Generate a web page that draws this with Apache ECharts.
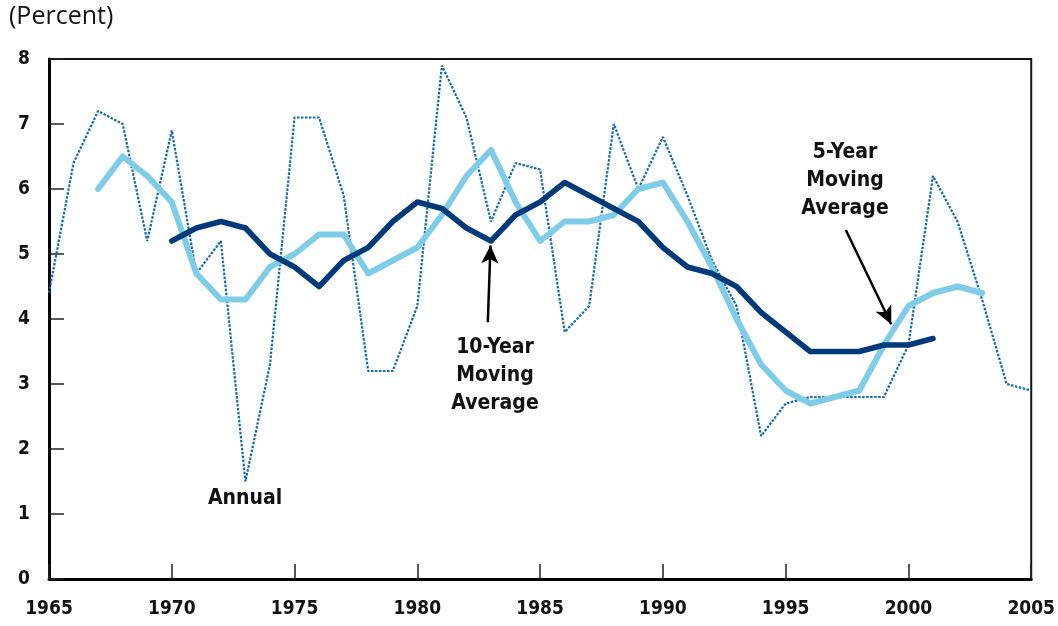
<!DOCTYPE html>
<html>
<head>
<meta charset="utf-8">
<script src="https://cdn.jsdelivr.net/npm/echarts@6/dist/echarts.min.js"></script>
<style>
  html, body { margin: 0; padding: 0; background: #fff; }
  #chart { width: 1058px; height: 626px; }
</style>
</head>
<body>
<div id="chart"></div>
<script>
// data
var annualStart = 1965;
var annual = [4.4, 6.4, 7.2, 7.0, 5.2, 6.9, 4.7, 5.2, 1.5, 3.3,
              7.1, 7.1, 5.9, 3.2, 3.2, 4.2, 7.9, 7.1, 5.5, 6.4,
              6.3, 3.8, 4.2, 7.0, 6.0, 6.8, 5.9, 4.9, 4.2, 2.2,
              2.7, 2.8, 2.8, 2.8, 2.8, 3.6, 6.2, 5.5, 4.3, 3.0, 2.9];
var ma5Start = 1967;
var ma5 = [6.0, 6.5, 6.2, 5.8, 4.7, 4.3, 4.3, 4.8, 5.0, 5.3,
           5.3, 4.7, 4.9, 5.1, 5.6, 6.2, 6.6, 5.8, 5.2, 5.5,
           5.5, 5.6, 6.0, 6.1, 5.5, 4.8, 4.0, 3.3, 2.9, 2.7,
           2.8, 2.9, 3.6, 4.2, 4.4, 4.5, 4.4];
var ma10Start = 1970;
var ma10 = [5.2, 5.4, 5.5, 5.4, 5.0, 4.8, 4.5, 4.9, 5.1, 5.5,
            5.8, 5.7, 5.4, 5.2, 5.6, 5.8, 6.1, 5.9, 5.7, 5.5,
            5.1, 4.8, 4.7, 4.5, 4.1, 3.8, 3.5, 3.5, 3.5, 3.6,
            3.6, 3.7];
var yearTicks = [1965, 1970, 1975, 1980, 1985, 1990, 1995, 2000, 2005];

function pairs(start, vals) {
    var out = [];
    for (var i = 0; i < vals.length; i++) {
        out.push([start + i, vals[i]]);
    }
    return out;
}

var font = '"Liberation Sans Narrow", "DejaVu Sans Condensed", "Roboto", sans-serif';

var chart = echarts.init(document.getElementById('chart'));
chart.setOption({
    animation: false,
    backgroundColor: '#fff',
    grid: {
        left: 49, right: 25, top: 59, bottom: 47,
        show: true, borderColor: '#111', borderWidth: 2,
        containLabel: false
    },
    xAxis: {
        type: 'value', min: 1965, max: 2005, interval: 5,
        axisLine: { show: true, lineStyle: { color: '#000', width: 3 } },
        axisTick: { show: true, inside: true, length: 15, lineStyle: { color: '#222', width: 1.5 } },
        axisLabel: {
            margin: 21, color: '#111', fontWeight: 'bold', fontSize: 19, fontFamily: font,
            formatter: function (v) { return yearTicks.indexOf(v) >= 0 ? String(v) : ''; }
        },
        splitLine: { show: false }
    },
    yAxis: {
        type: 'value', min: 0, max: 8, interval: 1,
        axisLine: { show: true, lineStyle: { color: '#000', width: 3 } },
        axisTick: { show: true, inside: true, length: 15, lineStyle: { color: '#222', width: 1.5 } },
        axisLabel: { margin: 19, color: '#111', fontWeight: 'bold', fontSize: 19, fontFamily: font },
        splitLine: { show: false }
    },
    graphic: [
        { type: 'text', left: 9, top: 4, style: { text: '(Percent)', font: '25px "Open Sans", sans-serif', fill: '#111' } },
        { type: 'text', x: 245, y: 499, style: { text: 'Annual', font: 'bold 21px ' + font, fill: '#111', align: 'center', verticalAlign: 'middle' } },
        { type: 'text', x: 495, y: 376, style: { text: '10-Year\nMoving\nAverage', font: 'bold 21px ' + font, lineHeight: 28, fill: '#111', align: 'center', verticalAlign: 'middle' } },
        { type: 'text', x: 845, y: 181, style: { text: '5-Year\nMoving\nAverage', font: 'bold 21px ' + font, lineHeight: 28, fill: '#111', align: 'center', verticalAlign: 'middle' } }
    ],
    series: [
        {
            name: 'Annual', type: 'line', data: pairs(annualStart, annual),
            showSymbol: false, symbol: 'none',
            lineStyle: { color: '#0f69ad', width: 2.2, type: [2.5, 1.5] },
            z: 2
        },
        {
            name: '5-Year Moving Average', type: 'line', data: pairs(ma5Start, ma5),
            showSymbol: false, symbol: 'none',
            lineStyle: { color: '#7fcce9', width: 6, cap: 'round', join: 'round' },
            z: 3,
            markLine: {
                silent: true, symbol: ['none', 'arrow'], symbolSize: [13, 18],
                label: { show: false },
                lineStyle: { color: '#000', width: 2.5, type: 'solid' },
                data: [[{ coord: [1997.45, 5.37] }, { coord: [1999.3, 3.92] }]]
            }
        },
        {
            name: '10-Year Moving Average', type: 'line', data: pairs(ma10Start, ma10),
            showSymbol: false, symbol: 'none',
            lineStyle: { color: '#003a7a', width: 5.5, cap: 'round', join: 'round' },
            z: 4,
            markLine: {
                silent: true, symbol: ['none', 'arrow'], symbolSize: [13, 18],
                label: { show: false },
                lineStyle: { color: '#000', width: 2.5, type: 'solid' },
                data: [[{ coord: [1982.87, 3.95] }, { coord: [1982.98, 5.13] }]]
            }
        }
    ]
});
</script>
</body>
</html>
